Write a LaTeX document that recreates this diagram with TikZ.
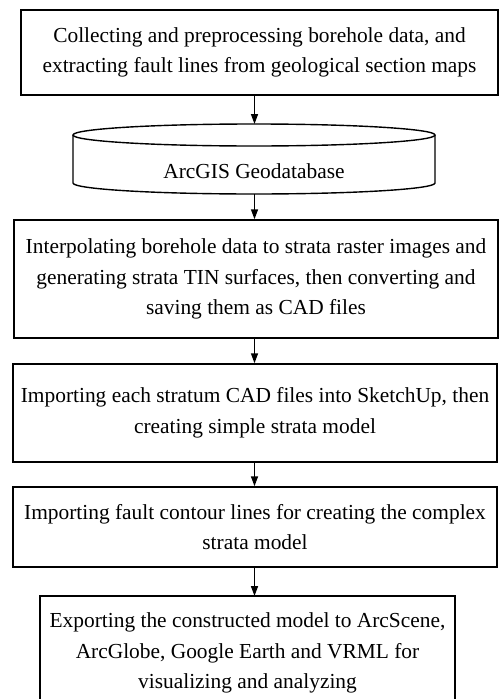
\documentclass[tikz,border=0pt]{standalone}
\usepackage{fontspec}
\setmainfont{Liberation Serif}
\usetikzlibrary{arrows.meta}
\begin{document}
\begin{tikzpicture}[x=1pt,y=-1pt,
  box/.style={draw, line width=1.5pt, align=center, inner sep=0pt, font=\fontsize{21.4}{30.5}\selectfont},
  txt/.style={align=center, inner sep=0pt, font=\fontsize{21.4}{30.5}\selectfont},
  cyl/.style={line width=1.4pt},
  arr/.style={line width=1.5pt, -{Stealth[length=10pt,width=7pt,inset=0pt]}}]
\useasboundingbox (0,0) rectangle (499,699);

\node[box, minimum width=477pt, minimum height=85pt] (b1) at (259.5,52.5)
  {Collecting and preprocessing borehole data, and\\extracting fault lines from geological section maps};

% database cylinder
\draw[cyl] (254,135) ellipse [x radius=181pt, y radius=11pt];
\draw[cyl] (73,135) -- (73,183) arc[start angle=180, end angle=360, x radius=181pt, y radius=11pt] -- (435,135);
\node[txt] (db) at (254,171) {ArcGIS Geodatabase};
\coordinate (dbtop) at (254.5,124);
\coordinate (dbbot) at (254.5,194);

\node[box, minimum width=484pt, minimum height=118pt] (b2) at (256,279)
  {Interpolating borehole data to strata raster images and\\generating strata TIN surfaces, then converting and\\saving them as CAD files};

\node[box, minimum width=484pt, minimum height=98pt] (b3) at (255,413)
  {Importing each stratum CAD files into SketchUp, then\\creating simple strata model};

\node[box, minimum width=484pt, minimum height=80pt] (b4) at (255,527)
  {Importing fault contour lines for creating the complex\\strata model};

\draw[line width=1.5pt] (40,712) |- (455,596) -- (455,712);
\coordinate (b5top) at (254.5,596);
\node[txt] (b5) at (247.5,653)
  {Exporting the constructed model to ArcScene,\\ArcGlobe, Google Earth and VRML for\\visualizing and analyzing};

\draw[arr] (b1.south -| dbtop) -- (dbtop);
\draw[arr] (dbbot) -- (dbbot |- b2.north);
\draw[arr] (b2.south -| dbtop) -- (b3.north -| dbtop);
\draw[arr] (b3.south -| dbtop) -- (b4.north -| dbtop);
\draw[arr] (b4.south -| dbtop) -- (b5top);
\end{tikzpicture}
\end{document}
